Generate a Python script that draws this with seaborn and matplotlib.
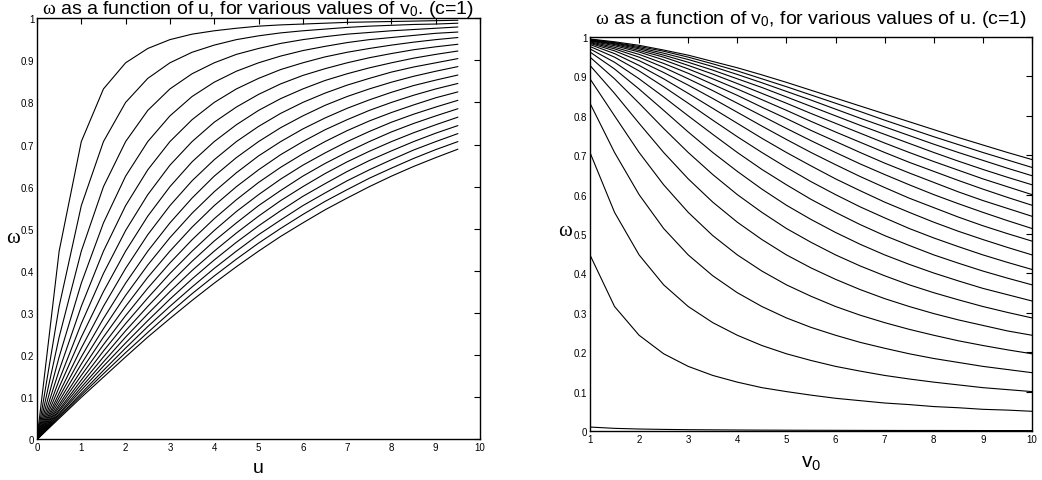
import numpy as np
import pandas as pd
import matplotlib
matplotlib.use('Agg')
import matplotlib.pyplot as plt
import seaborn as sns

# sample points
u_vals = [0.01, 0.5, 1.0, 1.5, 2.0, 2.5, 3.0, 3.5, 4.0, 4.5, 5.0,
          5.5, 6.0, 6.5, 7.0, 7.5, 8.0, 8.5, 9.0, 9.5]
v0_vals = [1.0, 1.5, 2.0, 2.5, 3.0, 3.5, 4.0, 4.5, 5.0, 5.5,
           6.0, 6.5, 7.0, 7.5, 8.0, 8.5, 9.0, 9.5, 10.0]

# omega values, one row per u, one column per v0
w_rows = [
    [0.010, 0.0067, 0.005, 0.004, 0.0033, 0.0029, 0.0025, 0.0022, 0.002, 0.0018, 0.0017, 0.0015, 0.0014, 0.0013, 0.0013, 0.0012, 0.0011, 0.0011, 0.001],
    [0.447, 0.316, 0.243, 0.196, 0.164, 0.141, 0.124, 0.110, 0.100, 0.091, 0.083, 0.077, 0.071, 0.067, 0.062, 0.059, 0.055, 0.053, 0.050],
    [0.707, 0.555, 0.447, 0.371, 0.316, 0.275, 0.243, 0.217, 0.196, 0.179, 0.164, 0.152, 0.141, 0.132, 0.124, 0.117, 0.110, 0.105, 0.100],
    [0.832, 0.707, 0.600, 0.514, 0.447, 0.394, 0.351, 0.316, 0.287, 0.263, 0.243, 0.225, 0.210, 0.196, 0.184, 0.174, 0.164, 0.156, 0.148],
    [0.894, 0.800, 0.707, 0.625, 0.555, 0.496, 0.447, 0.406, 0.371, 0.342, 0.316, 0.294, 0.275, 0.258, 0.243, 0.229, 0.217, 0.206, 0.196],
    [0.928, 0.857, 0.781, 0.707, 0.640, 0.581, 0.530, 0.486, 0.447, 0.414, 0.385, 0.359, 0.336, 0.316, 0.298, 0.282, 0.268, 0.254, 0.243],
    [0.949, 0.894, 0.832, 0.768, 0.707, 0.651, 0.600, 0.555, 0.514, 0.479, 0.447, 0.419, 0.394, 0.371, 0.351, 0.333, 0.316, 0.301, 0.287],
    [0.962, 0.919, 0.868, 0.814, 0.759, 0.707, 0.659, 0.614, 0.573, 0.537, 0.504, 0.474, 0.447, 0.423, 0.401, 0.381, 0.362, 0.346, 0.330],
    [0.970, 0.936, 0.894, 0.848, 0.800, 0.753, 0.707, 0.664, 0.625, 0.588, 0.555, 0.524, 0.496, 0.471, 0.447, 0.426, 0.406, 0.388, 0.371],
    [0.976, 0.949, 0.914, 0.874, 0.832, 0.789, 0.747, 0.707, 0.669, 0.633, 0.600, 0.569, 0.541, 0.514, 0.490, 0.468, 0.447, 0.428, 0.410],
    [0.981, 0.958, 0.928, 0.894, 0.857, 0.819, 0.781, 0.743, 0.707, 0.673, 0.640, 0.610, 0.581, 0.555, 0.530, 0.507, 0.486, 0.466, 0.447],
    [0.984, 0.965, 0.940, 0.910, 0.878, 0.844, 0.809, 0.774, 0.740, 0.707, 0.676, 0.646, 0.618, 0.591, 0.567, 0.543, 0.521, 0.501, 0.482],
    [0.986, 0.970, 0.949, 0.923, 0.894, 0.864, 0.832, 0.800, 0.768, 0.737, 0.707, 0.678, 0.651, 0.625, 0.600, 0.577, 0.555, 0.534, 0.514],
    [0.988, 0.974, 0.956, 0.933, 0.908, 0.880, 0.852, 0.822, 0.793, 0.763, 0.735, 0.707, 0.680, 0.655, 0.631, 0.607, 0.585, 0.565, 0.545],
    [0.990, 0.978, 0.962, 0.942, 0.919, 0.894, 0.868, 0.841, 0.814, 0.786, 0.759, 0.733, 0.707, 0.682, 0.659, 0.636, 0.614, 0.593, 0.573],
    [0.991, 0.981, 0.966, 0.949, 0.928, 0.906, 0.882, 0.857, 0.832, 0.806, 0.781, 0.756, 0.731, 0.707, 0.684, 0.662, 0.640, 0.620, 0.600],
    [0.992, 0.983, 0.970, 0.954, 0.936, 0.916, 0.894, 0.872, 0.848, 0.824, 0.800, 0.776, 0.753, 0.730, 0.707, 0.685, 0.664, 0.644, 0.625],
    [0.993, 0.985, 0.973, 0.959, 0.943, 0.925, 0.905, 0.884, 0.862, 0.840, 0.817, 0.794, 0.772, 0.750, 0.728, 0.707, 0.687, 0.667, 0.648],
    [0.994, 0.986, 0.976, 0.964, 0.949, 0.932, 0.914, 0.894, 0.874, 0.853, 0.832, 0.811, 0.789, 0.768, 0.747, 0.727, 0.707, 0.688, 0.669],
    [0.995, 0.988, 0.979, 0.967, 0.954, 0.938, 0.922, 0.904, 0.885, 0.865, 0.845, 0.825, 0.805, 0.785, 0.765, 0.745, 0.726, 0.707, 0.689],
]

left_xticks = [0, 1, 2, 3, 4, 5, 6, 7, 8, 9, 10]
right_xticks = [1, 2, 3, 4, 5, 6, 7, 8, 9, 10]
yticks = [0, 0.1, 0.2, 0.3, 0.4, 0.5, 0.6, 0.7, 0.8, 0.9, 1]
ytick_labels = ['0', '0.1', '0.2', '0.3', '0.4', '0.5', '0.6', '0.7', '0.8', '0.9', '1']

df = pd.DataFrame(w_rows, index=u_vals, columns=v0_vals)
df.index.name = 'u'
df.columns.name = 'v0'
long = df.stack().reset_index(name='w')

sns.set_style('white')
plt.rcParams['font.family'] = ['Liberation Sans', 'DejaVu Sans']
plt.rcParams['mathtext.fontset'] = 'custom'
plt.rcParams['mathtext.rm'] = 'Liberation Serif'
plt.rcParams['mathtext.sf'] = 'Liberation Sans'
plt.rcParams['mathtext.it'] = 'Liberation Serif:italic'
plt.rcParams['axes.edgecolor'] = 'black'
plt.rcParams['axes.linewidth'] = 1.0
plt.rcParams['text.color'] = 'black'
plt.rcParams['axes.labelcolor'] = 'black'

fig = plt.figure(figsize=(10.42, 4.81), dpi=100)
ax1 = fig.add_axes([0.0355, 0.0842, 0.4252, 0.876])
ax2 = fig.add_axes([0.5662, 0.1019, 0.4242, 0.819])

sns.lineplot(data=long, x='u', y='w', units='v0', estimator=None,
             color='black', lw=0.8, ax=ax1)
sns.lineplot(data=long, x='v0', y='w', units='u', estimator=None,
             color='black', lw=0.8, ax=ax2)

for ax, xt in ((ax1, left_xticks), (ax2, right_xticks)):
    ax.set_xlim(xt[0], xt[-1])
    ax.set_ylim(0, 1)
    ax.set_xticks(xt)
    ax.set_xticklabels([str(t) for t in xt])
    ax.set_yticks(yticks)
    ax.set_yticklabels(ytick_labels)
    ax.tick_params(direction='in', length=4, width=0.8, labelsize=7,
                   top=True, right=True, pad=2, colors='black')
    for s in ax.spines.values():
        s.set_visible(True)
        s.set_color('black')
    ax.set_ylabel('ω', rotation=0, fontsize=15, fontfamily='Liberation Serif',
                  ha='right', va='center')

ax1.yaxis.set_label_coords(-0.039, 0.48)
ax2.yaxis.set_label_coords(-0.042, 0.51)

ax1.set_xlabel('u', fontsize=14, labelpad=5)
ax2.set_xlabel(r'v$_{\mathsf{0}}$', fontsize=15, labelpad=6)

ax1.set_title(r'$\mathrm{\omega}$ as a function of u, for various values of v$_{\mathsf{0}}$. (c=1)',
              fontsize=14, pad=4)
ax2.set_title(r'$\mathrm{\omega}$ as a function of v$_{\mathsf{0}}$, for various values of u. (c=1)',
              fontsize=14, pad=10)

fig.savefig('out.png', dpi=100, facecolor='white')
